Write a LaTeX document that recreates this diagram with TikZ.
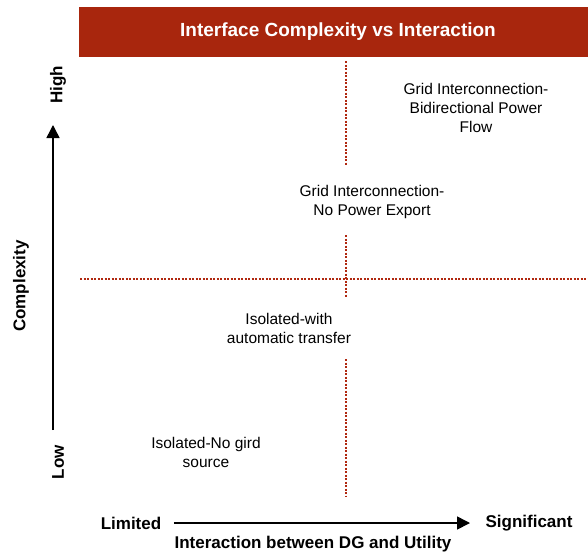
\documentclass[tikz,border=0pt]{standalone}
\usepackage{fontspec}
\setmainfont{Liberation Sans}
\usetikzlibrary{arrows.meta}
\definecolor{titlered}{RGB}{168,38,13}
\definecolor{dotred}{RGB}{176,40,16}

\begin{document}
\begin{tikzpicture}[x=1pt,y=-1pt,
        quad/.style={align=center,font=\fontsize{15.5}{19}\selectfont},
        axlabel/.style={font=\fontsize{17}{20}\selectfont\bfseries},
        divider/.style={draw=dotred,line width=2pt,dash pattern=on 2pt off 1.5pt},
        axis/.style={line width=1.5pt,-{Triangle[length=13pt,width=13pt]}}]
        \useasboundingbox (0,0) rectangle (588,554);
        \fill[titlered] (79,7) rectangle (588,57);
        \node[text=white,font=\fontsize{19}{22}\selectfont\bfseries] (title) at (338,32) {Interface Complexity vs Interaction};
        \foreach \x/\y/\n/\l in {476/108/bidir/{Grid Interconnection-\\Bidirectional Power\\Flow},372/201.5/noexport/{Grid Interconnection-\\No Power Export},289/328/autotr/{Isolated-with\\automatic transfer},206/452.5/nogrid/{Isolated-No gird\\source}}{
            \node[quad] (\n) at (\x,\y) {\l};
        }
        \foreach \a/\b in {61/166,235/297,359/496}{
            \draw[divider] (345.5,\a) -- (345.5,\b);
        }
        \draw[divider] (80,279) -- (588,279);
        \node[axlabel,rotate=90] (high) at (58,85) {High};
        \node[axlabel,rotate=90] (low) at (58,462) {Low};
        \node[axlabel,rotate=90] (cplx) at (21,286) {Complexity};
        \coordinate (ybot) at (53,430);
        \coordinate (ytop) at (53,125);
        \draw[axis] (ybot) -- (ytop);
        \node[axlabel] (limited) at (131,523) {Limited};
        \node[axlabel] (signif) at (529,523) {Significant};
        \node[axlabel] (inter) at (313,544) {Interaction between DG and Utility};
        \draw[axis] ([xshift=9pt]limited.east) -- ([xshift=-12pt]signif.west);
    \end{tikzpicture}
\end{document}
